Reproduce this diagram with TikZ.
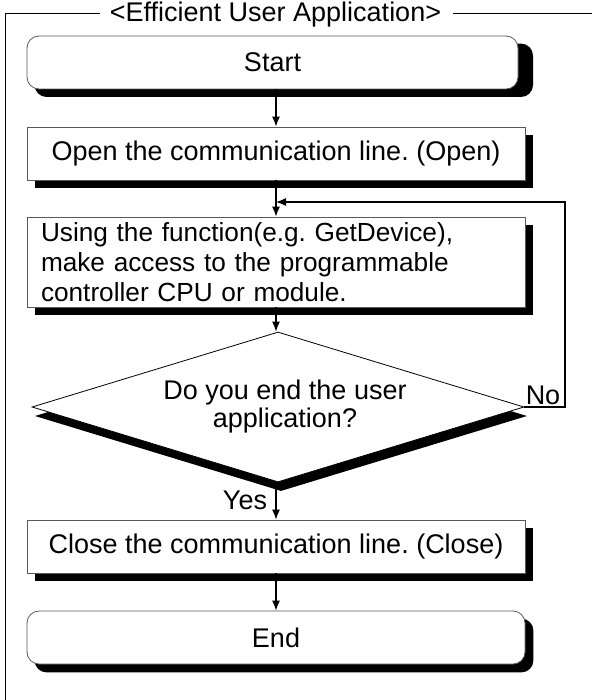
\documentclass[tikz,border=0pt]{standalone}
\usepackage{fontspec}
\setmainfont{Liberation Sans}
\frenchspacing
\usetikzlibrary{arrows.meta,shapes.geometric}
\pgfdeclarelayer{bg}
\pgfsetlayers{bg,main}
\begin{document}
\begin{tikzpicture}[x=1pt,y=-1pt,
  every node/.style={font=\fontsize{27}{30}\selectfont},
  box/.style={draw=black!65, line width=0.8pt, fill=white, minimum width=498pt, minimum height=53pt, inner sep=0pt},
  term/.style={box, rounded corners=12pt},
  decision/.style={diamond, aspect=3.28, minimum width=492pt, minimum height=150pt, inner sep=0pt},
  conn/.style={line width=1.2pt, -{Latex[length=10pt,width=8pt]}},
  lbl/.style={inner sep=0pt},
  frameline/.style={line width=1pt}
]
\useasboundingbox (0,0) rectangle (592,700);
% frame and title
\node[lbl] (title) at (275.5,15) {<Efficient User Application>};
\draw[frameline] (5,700) -- (5,14) -- ([xshift=-10pt]title.west |- 0,14);
\draw[frameline] ([xshift=12pt]title.east |- 0,14) -- (592,14);
% boxes
\node[term, minimum width=491pt] (start) at (272.5,62.5) {Start};
\node[box] (open) at (276,153.5) {Open the communication line. (Open)};
\node[box, minimum height=90pt, text width=470pt, align=left, inner xsep=14pt, font=\fontsize{26.2}{30}\selectfont] (access) at (276,262)
  {Using the function(e.g. GetDevice),\\make access to the programmable\\controller CPU or module.};
\node[decision, draw=black, line width=0.8pt, fill=white] (dec) at (278,407) {};
\node[lbl, align=center, font=\fontsize{27}{28}\selectfont] (dectext) at (285,407) {Do you end the user\\application?};
\node[box] (close) at (276,546.5) {Close the communication line. (Close)};
\node[term] (end) at (276,637.5) {End};
% labels
\node[lbl] (yes) at (245,500) {Yes};
\node[lbl] (no) at (543,395) {No};
% shadows
\begin{pgfonlayer}{bg}
\fill[rounded corners=12pt] ([shift={(8,8)}]start.north west) rectangle (533,97);
\fill ([shift={(8,8)}]open.north west) rectangle ([shift={(8,8)}]open.south east);
\fill ([shift={(8,8)}]access.north west) rectangle ([shift={(8,8)}]access.south east);
\node[decision, fill=black] (decshadow) at (281,416) {};
\fill ([shift={(8,8)}]close.north west) rectangle ([shift={(8,8)}]close.south east);
\fill[rounded corners=12pt] ([shift={(8,8)}]end.north west) rectangle ([shift={(8,8)}]end.south east);
\end{pgfonlayer}
% connectors
\coordinate (loopc) at (565,202);
\draw[conn] (start.south -| open.north) -- (open.north);
\draw[conn] (open.south) -- (access.north);
\draw[conn] (access.south) -- (access.south |- dec.north);
\draw[conn] (dec.south -| close.north) -- (close.north);
\draw[conn] (close.south) -- (end.north);
\draw[conn] (dec.east) -| (loopc) -- (loopc -| access.north);
\end{tikzpicture}
\end{document}
